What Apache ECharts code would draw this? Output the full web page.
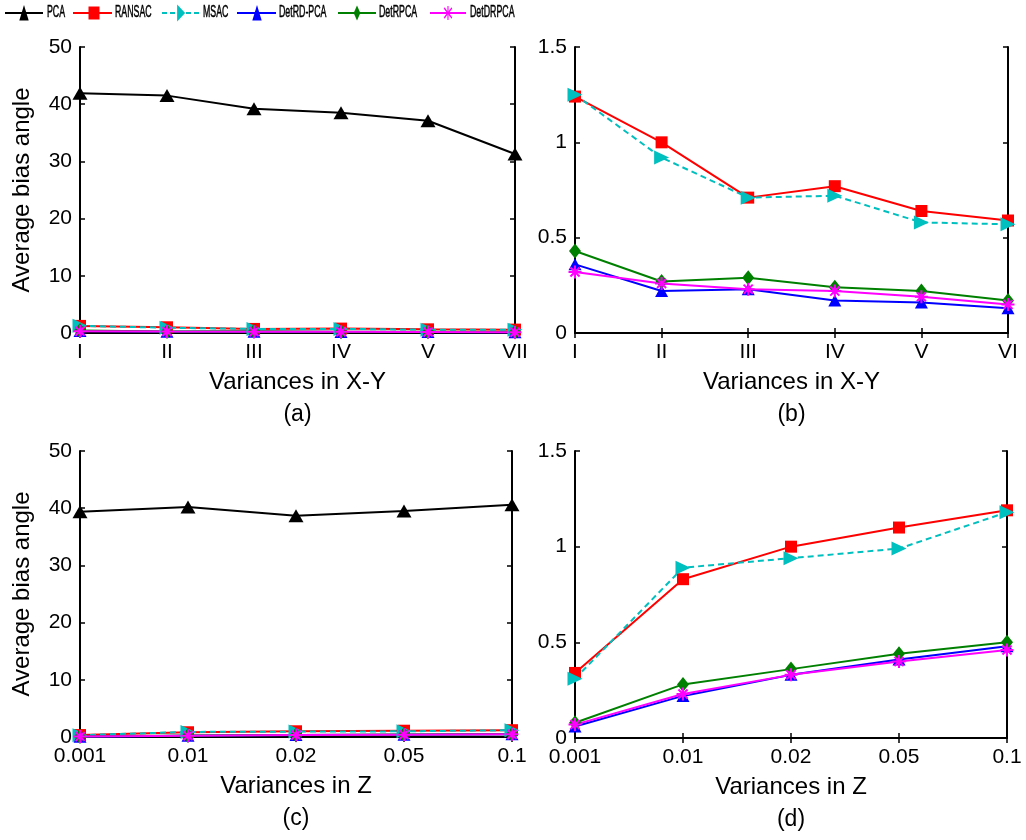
<!DOCTYPE html>
<html>
<head>
<meta charset="utf-8">
<script src="https://cdn.jsdelivr.net/npm/echarts@6/dist/echarts.min.js"></script>
<style>
  html, body { margin: 0; padding: 0; background: #fff; }
  #chart { width: 1026px; height: 840px; }
</style>
</head>
<body>
<div id="chart"></div>
<script>
// Methods compared
const methodNames = ['PCA', 'RANSAC', 'MSAC', 'DetRD-PCA', 'DetRPCA', 'DetDRPCA'];

// Category labels
const xyLabelsA = ['I', 'II', 'III', 'IV', 'V', 'VII'];
const xyLabelsB = ['I', 'II', 'III', 'IV', 'V', 'VI'];
const zLabels = ['0.001', '0.01', '0.02', '0.05', '0.1'];

// Average bias angle vs. variance in X-Y
const xyPCA       = [41.9, 41.5, 39.2, 38.5, 37.1, 31.3];
const xyRANSAC    = [1.24, 1.00, 0.71, 0.77, 0.64, 0.59];
const xyMSAC      = [1.25, 0.92, 0.71, 0.72, 0.58, 0.57];
const xyDetRDPCA  = [0.36, 0.22, 0.23, 0.17, 0.16, 0.13];
const xyDetRPCA   = [0.43, 0.27, 0.29, 0.24, 0.22, 0.17];
const xyDetDRPCA  = [0.32, 0.26, 0.23, 0.22, 0.19, 0.15];

// Average bias angle vs. variance in Z
const zPCA        = [39.4, 40.2, 38.7, 39.5, 40.6];
const zRANSAC     = [0.34, 0.83, 1.00, 1.10, 1.19];
const zMSAC       = [0.31, 0.89, 0.94, 0.99, 1.18];
const zDetRDPCA   = [0.06, 0.22, 0.33, 0.41, 0.48];
const zDetRPCA    = [0.08, 0.28, 0.36, 0.44, 0.50];
const zDetDRPCA   = [0.07, 0.23, 0.33, 0.40, 0.46];

const FONT = '"Liberation Sans", Arial, Helvetica, sans-serif';
const ASTERISK = 'path://M0,-10L0,10M-10,0L10,0M-7,-7L7,7M-7,7L7,-7';

const methodStyle = {
  'PCA':       { color: '#000000', symbol: 'triangle', size: [15, 13] },
  'RANSAC':    { color: '#ff0000', symbol: 'rect', size: [12, 12] },
  'MSAC':      { color: '#00bfbf', symbol: 'triangle', size: [14, 15], rotate: -90, dash: [6, 4] },
  'DetRD-PCA': { color: '#0000ff', symbol: 'triangle', size: [13, 12] },
  'DetRPCA':   { color: '#008000', symbol: 'diamond', size: [12, 15] },
  'DetDRPCA':  { color: '#ff00ff', symbol: ASTERISK, size: [13, 13], stroke: true }
};

const panels = [
  { cats: xyLabelsA, max: 50,  interval: 10,  xName: 'Variances in X-Y', yName: 'Average bias angle', tag: '(a)',
    grid: { left: 80, top: 47, width: 435, height: 286 },
    data: { 'PCA': xyPCA, 'RANSAC': xyRANSAC, 'MSAC': xyMSAC, 'DetRD-PCA': xyDetRDPCA, 'DetRPCA': xyDetRPCA, 'DetDRPCA': xyDetDRPCA } },
  { cats: xyLabelsB, max: 1.5, interval: 0.5, xName: 'Variances in X-Y', yName: '', tag: '(b)',
    grid: { left: 575, top: 47, width: 433, height: 286 },
    data: { 'RANSAC': xyRANSAC, 'MSAC': xyMSAC, 'DetRD-PCA': xyDetRDPCA, 'DetRPCA': xyDetRPCA, 'DetDRPCA': xyDetDRPCA } },
  { cats: zLabels, max: 50,  interval: 10,  xName: 'Variances in Z', yName: 'Average bias angle', tag: '(c)',
    grid: { left: 80, top: 451, width: 432, height: 286 },
    data: { 'PCA': zPCA, 'RANSAC': zRANSAC, 'MSAC': zMSAC, 'DetRD-PCA': zDetRDPCA, 'DetRPCA': zDetRPCA, 'DetDRPCA': zDetDRPCA } },
  { cats: zLabels, max: 1.5, interval: 0.5, xName: 'Variances in Z', yName: '', tag: '(d)',
    grid: { left: 575, top: 451, width: 432, height: 287 },
    data: { 'RANSAC': zRANSAC, 'MSAC': zMSAC, 'DetRD-PCA': zDetRDPCA, 'DetRPCA': zDetRPCA, 'DetDRPCA': zDetDRPCA } }
];

const lineAxis = { lineStyle: { color: '#000', width: 2 } };
const inTick = { inside: true, length: 5, lineStyle: { color: '#000', width: 1.5 } };

const grids = [], xAxes = [], yAxes = [], series = [], graphics = [];

panels.forEach((p, gi) => {
  grids.push(Object.assign({ containLabel: false }, p.grid));
  // bottom + top (mirror) category axes
  xAxes.push({
    gridIndex: gi, type: 'category', data: p.cats, boundaryGap: false,
    axisLine: lineAxis, axisTick: inTick,
    axisLabel: { color: '#000', fontSize: 21, fontFamily: FONT, margin: 9 },
    splitLine: { show: false },
    name: p.xName, nameLocation: 'middle', nameGap: 37,
    nameTextStyle: { color: '#000', fontSize: 24, fontFamily: FONT }
  });
  xAxes.push({
    gridIndex: gi, type: 'category', data: p.cats, boundaryGap: false, position: 'top',
    axisLine: lineAxis, axisTick: inTick, axisLabel: { show: false }, splitLine: { show: false }
  });
  // left + right (mirror) value axes
  yAxes.push({
    gridIndex: gi, type: 'value', min: 0, max: p.max, interval: p.interval,
    axisLine: Object.assign({ show: true }, lineAxis), axisTick: Object.assign({ show: true }, inTick),
    axisLabel: { color: '#000', fontSize: 21, fontFamily: FONT, margin: 8 },
    splitLine: { show: false },
    name: p.yName, nameLocation: 'middle', nameGap: 46, nameRotate: 90,
    nameTextStyle: { color: '#000', fontSize: 24, fontFamily: FONT }
  });
  yAxes.push({
    gridIndex: gi, type: 'value', min: 0, max: p.max, interval: p.interval, position: 'right',
    axisLine: Object.assign({ show: true }, lineAxis), axisTick: Object.assign({ show: true }, inTick),
    axisLabel: { show: false }, splitLine: { show: false }
  });

  methodNames.forEach(name => {
    if (!p.data[name]) return;
    const s = methodStyle[name];
    series.push({
      name: name, type: 'line', xAxisIndex: 2 * gi, yAxisIndex: 2 * gi,
      data: p.data[name],
      symbol: s.symbol, symbolSize: s.size, symbolRotate: s.rotate || 0,
      showAllSymbol: true,
      lineStyle: { color: s.color, width: 2, type: s.dash ? s.dash : 'solid' },
      itemStyle: s.stroke
        ? { color: s.color, borderColor: s.color, borderWidth: 2 }
        : { color: s.color, borderWidth: 0 },
      emphasis: { disabled: true },
      clip: true
    });
  });

  // panel tag (a)..(d)
  graphics.push({
    type: 'text', x: p.grid.left + p.grid.width / 2, y: p.grid.top + p.grid.height + 82,
    style: { text: p.tag, fill: '#000', fontSize: 23, fontFamily: FONT,
             textAlign: 'center', align: 'center', textVerticalAlign: 'middle', verticalAlign: 'middle' }
  });
});

// Legend row, drawn horizontally condensed
const LS = 0.55;
const legendItems = [
  { name: 'PCA',       x1: 5,   x2: 43,  xm: 24,  xt: 47 },
  { name: 'RANSAC',    x1: 73,  x2: 112, xm: 94,  xt: 115 },
  { name: 'MSAC',      x1: 162, x2: 200, xm: 181, xt: 203 },
  { name: 'DetRD-PCA', x1: 237, x2: 276, xm: 257, xt: 279 },
  { name: 'DetRPCA',   x1: 338, x2: 376, xm: 357, xt: 379 },
  { name: 'DetDRPCA',  x1: 430, x2: 466, xm: 448, xt: 470 }
];
const LY = 13;
const legendChildren = [];
legendItems.forEach(it => {
  const s = methodStyle[it.name];
  const cx = it.xm / LS;
  legendChildren.push({
    type: 'line', shape: { x1: it.x1 / LS, y1: LY, x2: it.x2 / LS, y2: LY },
    style: { stroke: s.color, lineWidth: 2, lineDash: s.dash ? [5 / LS, 3 / LS] : null }
  });
  if (it.name === 'PCA' || it.name === 'DetRD-PCA') {
    legendChildren.push({ type: 'polygon', shape: { points: [[cx - 8.5, LY + 7.5], [cx + 8.5, LY + 7.5], [cx, LY - 8]] }, style: { fill: s.color } });
  } else if (it.name === 'RANSAC') {
    legendChildren.push({ type: 'rect', shape: { x: cx - 10, y: LY - 6.5, width: 20, height: 13 }, style: { fill: s.color } });
  } else if (it.name === 'MSAC') {
    legendChildren.push({ type: 'polygon', shape: { points: [[cx - 7, LY - 8.5], [cx - 7, LY + 8.5], [cx + 7.5, LY]] }, style: { fill: s.color } });
  } else if (it.name === 'DetRPCA') {
    legendChildren.push({ type: 'polygon', shape: { points: [[cx, LY - 7.5], [cx + 6, LY], [cx, LY + 7.5], [cx - 6, LY]] }, style: { fill: s.color } });
  } else {
    // asterisk made of three strokes
    [[0, -7, 0, 7], [-7, -5, 7, 5], [-7, 5, 7, -5]].forEach(seg => {
      legendChildren.push({
        type: 'line', shape: { x1: cx + seg[0], y1: LY + seg[1], x2: cx + seg[2], y2: LY + seg[3] },
        style: { stroke: s.color, lineWidth: 2 }
      });
    });
  }
  legendChildren.push({
    type: 'text', x: it.xt / LS, y: LY,
    style: { text: it.name, fill: '#000', stroke: '#000', lineWidth: 0.5, fontSize: 16, fontFamily: FONT,
             textAlign: 'left', align: 'left', textVerticalAlign: 'middle', verticalAlign: 'middle' }
  });
});
graphics.push({ type: 'group', x: 0, y: 0, scaleX: LS, scaleY: 1, children: legendChildren });

const chart = echarts.init(document.getElementById('chart'), null, { renderer: 'canvas' });
chart.setOption({
  animation: false,
  backgroundColor: '#ffffff',
  textStyle: { fontFamily: FONT },
  grid: grids,
  xAxis: xAxes,
  yAxis: yAxes,
  series: series,
  graphic: graphics
});
</script>
</body>
</html>
